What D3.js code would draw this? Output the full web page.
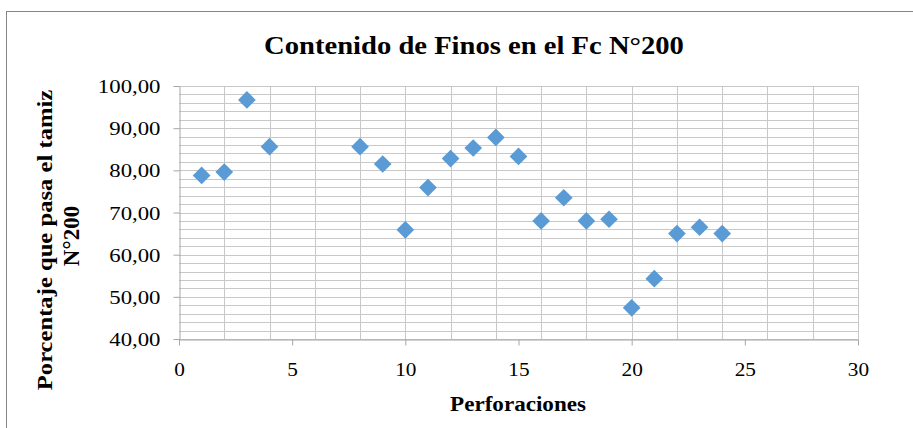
<!DOCTYPE html>
<html>
<head>
<meta charset="utf-8">
<script src="https://cdn.jsdelivr.net/npm/d3@7"></script>
<style>
  body { margin: 0; background: #fff; }
  svg { display: block; font-family: "Liberation Serif", "Times New Roman", serif; }
</style>
</head>
<body>
<div id="chart"></div>
<script>
const perforaciones = [1, 2, 3, 4, 8, 9, 10, 11, 12, 13, 14, 15, 16, 17, 18, 19, 20, 21, 22, 23, 24];
const finos = [78.8, 79.6, 96.7, 85.6, 85.6, 81.5, 65.9, 75.9, 82.8, 85.3, 87.8, 83.3,
  68.0, 73.5, 68.0, 68.4, 47.4, 54.3, 65.0, 66.5, 65.0];
const xTicks = [0, 5, 10, 15, 20, 25, 30];
const yTicks = [40, 50, 60, 70, 80, 90, 100];

const width = 913;
const height = 428;
const margin = { top: 86, right: 55, bottom: 89, left: 179 };

const svg = d3.select("#chart").append("svg")
  .attr("width", width)
  .attr("height", height);

// chart frame
svg.append("rect")
  .attr("x", 6.5).attr("y", 11.5)
  .attr("width", 920).attr("height", 440)
  .attr("fill", "none")
  .attr("stroke", "#868686");

const x = d3.scaleLinear().domain([0, 30]).range([margin.left, width - margin.right]);
const y = d3.scaleLinear().domain([40, 100]).range([height - margin.bottom, margin.top]);

const grid = svg.append("g").attr("stroke", "#c8c8c8").attr("stroke-width", 1);
grid.selectAll("line.h")
  .data(d3.range(40, 101, 2))
  .join("line")
  .attr("x1", x(0)).attr("x2", x(30))
  .attr("y1", (d) => Math.round(y(d)) + 0.5)
  .attr("y2", (d) => Math.round(y(d)) + 0.5);
grid.selectAll("line.v")
  .data(d3.range(2, 31, 2))
  .join("line")
  .attr("x1", (d) => Math.round(x(d)) + 0.5)
  .attr("x2", (d) => Math.round(x(d)) + 0.5)
  .attr("y1", y(40)).attr("y2", y(100));

const xAxis = svg.append("g")
  .attr("transform", `translate(0,${Math.round(y(40)) + 0.5})`)
  .call(d3.axisBottom(x).tickValues(xTicks).tickSize(6).tickSizeOuter(0).tickFormat(d3.format("d")));

const fmt = (d) => d.toFixed(2).replace(".", ",");
const yAxis = svg.append("g")
  .attr("transform", `translate(${Math.round(x(0)) + 0.5},0)`)
  .call(d3.axisLeft(y).tickValues(yTicks).tickSize(6).tickSizeOuter(0).tickFormat(fmt));

[xAxis, yAxis].forEach((g) => {
  g.selectAll(".domain, line").attr("stroke", "#a6a6a6");
  g.selectAll("text")
    .attr("font-family", "Liberation Serif, serif")
    .attr("font-size", 19)
    .attr("fill", "#000");
});
// labels look a bit stretched sideways in the original
xAxis.selectAll("text").attr("y", 37).attr("dy", null).attr("transform", "scale(1.12,1)");
yAxis.selectAll("text").attr("x", -19 / 1.2).attr("dy", "0.35em").attr("transform", "scale(1.2,1)");

svg.append("g")
  .attr("fill", "#5b9bd5")
  .selectAll("path")
  .data(perforaciones.map((p, i) => [p, finos[i]]))
  .join("path")
  .attr("d", d3.symbol(d3.symbolDiamond2, 200))
  .attr("transform", (d) => `translate(${x(d[0])},${y(d[1])})`);

svg.append("text")
  .attr("transform", "translate(474,54) scale(1.1,1)")
  .attr("text-anchor", "middle")
  .attr("font-weight", "bold")
  .attr("font-size", 26)
  .text("Contenido de Finos en el Fc N°200");

svg.append("text")
  .attr("transform", "translate(518,411) scale(1.05,1)")
  .attr("text-anchor", "middle")
  .attr("font-weight", "bold")
  .attr("font-size", 22)
  .text("Perforaciones");

svg.append("text")
  .attr("transform", "translate(52,240) rotate(-90) scale(1.12,1)")
  .attr("text-anchor", "middle")
  .attr("font-weight", "bold")
  .attr("font-size", 22)
  .text("Porcentaje que pasa el tamiz");

svg.append("text")
  .attr("transform", "translate(79,236) rotate(-90)")
  .attr("text-anchor", "middle")
  .attr("font-weight", "bold")
  .attr("font-size", 23)
  .text("N°200");
</script>
</body>
</html>
